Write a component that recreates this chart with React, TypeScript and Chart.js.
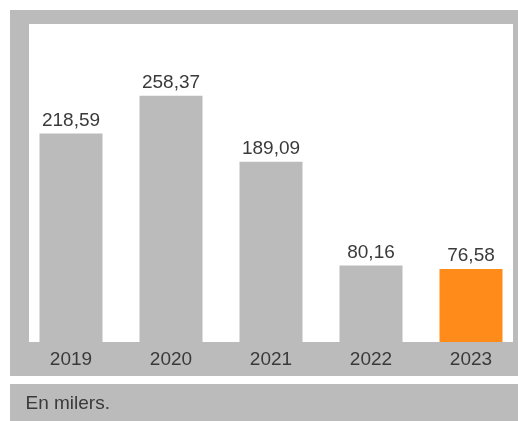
import React, { useEffect, useRef } from "react";
import { Chart, registerables } from "chart.js";

Chart.register(...registerables);

const categories = ["2019", "2020", "2021", "2022", "2023"];
const values = [218.59, 258.37, 189.09, 80.16, 76.58];
const valueLabels = ["218,59", "258,37", "189,09", "80,16", "76,58"];
const footnote = "En milers.";

const GRAY = "#BBBBBB";
const ORANGE = "#FF8C1A";
const TEXT = "#3A3A3A";
const FONT = "'Liberation Sans', Arial, sans-serif";

const CANVAS_W = 540;
const CANVAS_H = 421;

export default function App() {
  const ref = useRef<HTMLCanvasElement | null>(null);

  useEffect(() => {
    if (!ref.current) return;

    const backgroundPlugin = {
      id: "bgPanels",
      beforeDraw(chart: any) {
        const ctx = chart.ctx;
        ctx.save();
        ctx.fillStyle = GRAY;
        ctx.fillRect(10, 10, 508, 366);
        ctx.fillStyle = "#FFFFFF";
        ctx.fillRect(29, 24, 484, 318);
        ctx.fillStyle = GRAY;
        ctx.fillRect(10, 384, 508, 37);
        ctx.fillStyle = TEXT;
        ctx.font = `19px ${FONT}`;
        ctx.textAlign = "left";
        ctx.textBaseline = "alphabetic";
        ctx.fillText(footnote, 25.5, 409);
        ctx.restore();
      },
    };

    const valueLabelPlugin = {
      id: "valueLabels",
      afterDatasetsDraw(chart: any) {
        const ctx = chart.ctx;
        const meta = chart.getDatasetMeta(0);
        ctx.save();
        ctx.fillStyle = TEXT;
        ctx.font = `19px ${FONT}`;
        ctx.textAlign = "center";
        ctx.textBaseline = "alphabetic";
        meta.data.forEach((bar: any, i: number) => {
          ctx.fillText(valueLabels[i], bar.x, bar.y - 8);
        });
        ctx.restore();
      },
    };

    const chart = new Chart(ref.current, {
      type: "bar",
      data: {
        labels: categories,
        datasets: [
          {
            data: values,
            backgroundColor: values.map((_, i) => (i === values.length - 1 ? ORANGE : GRAY)),
            borderWidth: 0,
            barPercentage: 0.63,
            categoryPercentage: 1,
          },
        ],
      },
      options: {
        responsive: false,
        animation: false,
        devicePixelRatio: 1,
        layout: { padding: { left: 21, right: CANVAS_W - 521, top: 56, bottom: 0 } },
        plugins: {
          legend: { display: false },
          tooltip: { enabled: false },
          title: { display: false },
        },
        scales: {
          x: {
            type: "category",
            offset: true,
            grid: { display: false, drawTicks: false },
            border: { display: false },
            ticks: {
              color: TEXT,
              font: { family: FONT, size: 19 },
              padding: 6,
              maxRotation: 0,
              autoSkip: false,
            },
            afterFit(scale: any) {
              scale.height = CANVAS_H - 342;
            },
          },
          y: {
            display: false,
            min: 0,
            max: 300,
          },
        },
      },
      plugins: [backgroundPlugin, valueLabelPlugin],
    });

    return () => chart.destroy();
  }, []);

  return (
    <div
      style={{
        position: "fixed",
        left: 0,
        top: 0,
        width: 518,
        height: 421,
        overflow: "hidden",
        background: "#FFFFFF",
      }}
    >
      <canvas ref={ref} width={CANVAS_W} height={CANVAS_H} style={{ display: "block" }} />
    </div>
  );
}
